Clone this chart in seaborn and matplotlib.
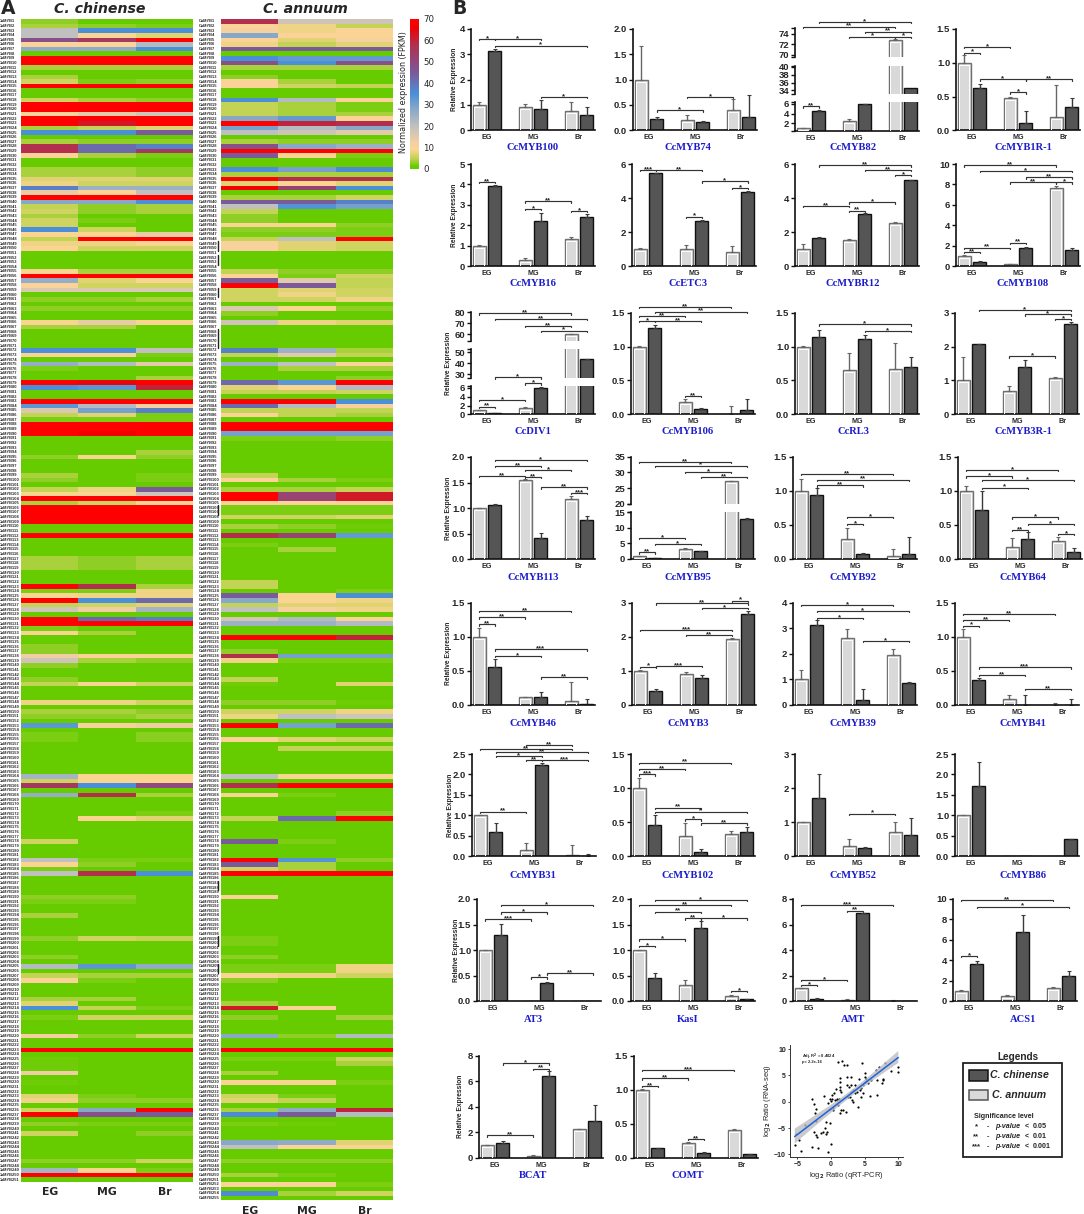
import numpy as np
import pandas as pd
import matplotlib
matplotlib.use("Agg")
import matplotlib.pyplot as plt
import seaborn as sns
from matplotlib.colors import LinearSegmentedColormap
from matplotlib.patches import Rectangle

W, H = 1084, 1214
sns.set_theme(style="white")
plt.rcParams['font.family'] = ['Liberation Sans', 'DejaVu Sans']
plt.rcParams['font.weight'] = 'bold'

# --- heatmap values read row by row (FPKM), G = plain green row, R = saturated red row
G = (1, 1, 1)
R = (70, 70, 70)
chinense_rows = [
    (3,1,.5),(4,3,2),(20,35,35),(20,9,7),(48,55,70),(10,10,22),(27,27,35),G,R,R,
    (4,4,4),G,(4,1,1),(6,2,3),R,G,G,(6,4,3),R,R,
    (10,14,18),R,(70,62,70),(4,5,7),(35,35,45),G,(4,3,3),(58,42,38),(58,42,55),(10,4,2),
    G,G,(4,4,3),(4,4,3),(7,7,7),(8,6,6),(38,25,25),(14,10,20),R,(28,28,35),
    (5,3,4),(6,3,4),(4,1,1),(6,2,1),(6,1,1),(35,6,1),(9,9,14),(5,70,70),(8,8,9),(9,6,6),
    G,G,G,G,(9,4,4),R,(26,7,9),(10,6,6),(16,16,16),G,
    (3,3,4),G,(3,3,3),G,G,(9,14,9),(4,4,1),G,G,G,
    G,(35,35,20),(9,9,2),G,(26,22,15),(2,1,1),G,(1,1,4),(70,65,70),(35,33,60),
    G,G,R,(33,22,12),(16,30,38),(5,7,2),(2,2,2),R,R,(70,66,70),
    G,G,G,(1,1,4),(3,9,3),G,G,G,(4,1,2),(3,1,2),
    G,(5,8,45),(9,9,18),R,(4,6,10),R,R,R,R,G,
    G,R,G,G,G,G,(4,3,4),(4,3,4),(4,3,4),G,
    G,G,(70,58,4),(2,2,8),(9,8,8),(70,35,42),(5,6,7),(18,13,24),G,(70,42,38),
    R,(2,1,1),(9,4,1),G,G,(3,1,1),(3,1,1),(13,10,9),(18,4,3),(3,1,1),
    G,G,(3,1,1),(5,9,6),G,G,G,(8,8,6),G,(4,4,3),
    (3,3,4),G,(33,11,13),G,(2,1,2.5),(2,1,2.5),G,G,G,G,
    G,G,G,(24,9,9),(6,9,9),(55,35,50),G,(26,58,4),G,G,
    G,(1,1,2),(1,9,7),G,G,G,G,(6,1,1),G,G,
    G,(20,2,2),(9,3,1),(2,1,1),(20,58,35),G,G,G,G,(3,3,1),
    (2,2,1),G,G,(4,1,1),G,G,G,G,(3,6,5),G,
    G,G,(3,1,1),G,(22,33,27),G,(5,4,4),(10,2,1),G,G,
    G,(4,4,1),(7,1,1),(35,5,2),G,(2,6,6),G,G,G,(12,3,6),
    G,G,R,G,(1.5,1,1),(1.5,1,1),(1.5,1,1),(13,1,1),G,(1.5,1,1),
    G,G,(7,2,1),(8,3,3),G,(6,28,70),(70,48,45),G,(3,2,2),G,
    (6,1,3),G,G,G,G,G,(3,3,6),G,(24,9,2),R,G,
]
annuum_rows = [
    (58,18,18),(10,8,5),(12,8,10),(28,10,9),(10,7,12),(8,5,7),(45,45,45),G,(35,32,32),(48,35,48),
    (4,4,4),G,(3,1,1),(10,4,1),(10,6,5),G,G,(35,22,10),(5,4,2),(5,4,2),
    (5,4,4),(28,32,10),(70,60,58),(30,22,28),(20,18,15),G,(4,3,3),(48,28,25),R,(45,9,2),
    G,G,(35,30,36),(4,4,4),(70,58,58),(7,9,7),(68,52,35),G,(4,4,6),(45,45,38),
    (20,34,30),(5,1,1),(3,1,1),(3,1,1),(9,9,3),(3,3,2),(2,2,2),(5,20,70),(11,7,6),(11,7,6),
    G,G,G,G,(5,3,3),(9,2,6),(45,15,5),(70,45,5),(6,7,6),(6,8,6),
    (6,6,8),G,(16,9,3),(3,1,1),G,(18,8,7),G,G,G,G,
    G,(38,25,4),(5,15,5),G,(25,20,10),(1,4,4),G,(1,1,3),(42,33,70),(7,9,22),
    (5,5,6),G,(70,70,35),(42,22,12),(5,5,5),(10,5,4),G,R,R,(30,30,30),
    (2,2,3),G,G,G,G,G,G,G,(5,1,1),(10,4,2),
    G,(4,4,5),(70,52,62),(70,52,62),(10,10,12),(2,2,2),(2,2,2),(6,6,7),G,(4,3,1.5),
    G,(58,52,32),G,(2,1,1),(1,4,1),G,G,G,G,G,
    G,(5,1,1),(5,1,1),(1,1,2),(45,9,35),(28,9,8),(5,7,7),(20,12,8),G,(17,22,10),
    (25,25,22),G,G,(70,70,60),G,G,(3,1,1),(58,30,30),(8,2,2),G,
    G,G,(5,1,1),(1.5,1,7),G,G,G,(3,3,1.5),G,(6,6,8),
    (8,20,18),G,(70,30,42),G,G,(10,7,6),G,(1,5,5),G,G,
    G,G,G,(20,9,9),G,(58,70,70),G,(9,2,1),G,G,
    G,(1,1,3),(5,42,70),G,G,G,G,(45,2,1),G,G,
    G,(70,34,3),(45,4,1),(6,4,1),R,G,G,G,G,(10,1,1),
    G,G,G,G,G,G,G,G,(2,1,1),(2,1,1),
    G,G,(3,1,1),G,(2,2,8),(2,2,8),(9,8,6),(3,1,1),G,G,
    G,G,(4,1,1),(62,10,1),G,(3,1,4),G,G,G,(28,3,22),
    G,G,R,G,(2,2,6),(1,1,4),G,(4,1,1),G,(10,9,2),
    G,G,(6,2,1),(7,5,1),G,(4,27,60),(36,45,22),G,(2,1.5,1),G,
    G,G,(28,27,7),(20,10,10),G,G,(3,3,3),G,G,(4,2,1),
    G,(10,10,2),G,(36,4,6),G,
]
stages = ["EG", "MG", "Br"]
# black marks beside the C. annuum rows (row start, row end)
mark_rows = [(48,50),(51,53),(58,60),(67,71),(105,107),(186,188),(198,200),(204,206)]

# --- qRT-PCR bars
genes = ["CcMYB100","CcMYB74","CcMYB82","CcMYB1R-1","CcMYB16","CcETC3","CcMYBR12","CcMYB108",
         "CcDIV1","CcMYB106","CcRL3","CcMYB3R-1","CcMYB113","CcMYB95","CcMYB92","CcMYB64",
         "CcMYB46","CcMYB3","CcMYB39","CcMYB41","CcMYB31","CcMYB102","CcMYB52","CcMYB86",
         "AT3","KasI","AMT","ACS1","BCAT","COMT"]
annuum_mean = [[1,.92,.78],[1,.2,.4],[1,2.5,72.7],[1,.48,.2],[1,.27,1.33],[1,1.02,.8],[1,1.55,2.55],[1,.15,7.6],
               [1,1.5,60],[1,.18,.01],[1,.65,.67],[1,.69,1.06],[1,1.55,1.17],[1,3.2,27.3],[1,.29,.04],[1,.18,.27],
               [1,.11,.05],[1,.89,1.92],[1,2.6,1.95],[1,.08,0],[1,.15,.03],[1,.29,.33],[1,.29,.71],[1,0,0],
               [1,0,0],[1,.31,.09],[1,.08,0],[1,.5,1.3],[1,.15,2.25],[1,.22,.41]]
annuum_err = [[.12,.1,.33],[.67,.1,.22],[.1,.5,.2],[.12,.01,.47],[.03,.12,.1],[.04,.22,.4],[.32,.05,.03],[.03,.03,.2],
              [.05,.05,.5],[.01,.04,.11],[.005,.26,.38],[.68,.15,.03],[.003,.01,.07],[.1,.2,.1],[.18,.17,.1],[.07,.13,.05],
              [.13,.01,.29],[.02,.08,.04],[.35,.35,.25],[.11,.07,.03],[.005,.18,.23],[.14,.2,.04],[.005,.22,.28],[.005,0,0],
              [.005,0,0],[.005,.1,.03],[.02,.05,.05],[.03,.12,.1],[.02,.05,.02],[.005,.01,.005]]
chinense_mean = [[3.12,.85,.62],[.22,.17,.26],[4.6,5.9,34.7],[.63,.11,.34],[3.9,2.2,2.38],[5.45,2.67,4.38],[1.67,3.08,5.05],[.38,1.75,1.6],
                 [.3,6,44],[1.27,.08,.06],[1.14,1.11,.7],[2.07,1.39,2.68],[1.05,.41,.77],[.3,2.6,13],[.94,.08,.07],[.72,.29,.1],
                 [.56,.11,.01],[.41,.8,2.68],[3.12,.18,.87],[.36,0,0],[.58,2.23,.01],[.46,.06,.35],[1.7,.25,.62],[1.72,0,.42],
                 [1.3,.35,0],[.45,1.44,.03],[.15,6.87,0],[3.65,6.8,2.45],[1.12,6.42,2.85],[.14,.07,.05]]
chinense_err = [[.1,.33,.3],[.04,.01,.43],[.15,.1,0],[.05,.18,.14],[.05,.42,.18],[.05,.02,.04],[.01,.02,.03],[.1,.15,.15],
                [.1,.2,.2],[.05,.02,.16],[.11,.06,.15],[.005,.21,.05],[.03,.1,.07],[.05,.1,.2],[.1,.01,.25],[.28,.1,.06],
                [.11,.08,.08],[.06,.06,.07],[.2,.42,.02],[.03,.15,.09],[.24,.05,.03],[.14,.04,.08],[.72,.02,.5],[.58,0,.005],
                [.21,.03,0],[.09,.12,.01],[.05,.02,0],[.25,1.65,.45],[.2,.4,1.3],[.01,.01,.005]]
y_max = [4,2,0,1.5, 5,6,6,10, 0,1.5,1.5,3, 2,0,1.5,1.5, 1.5,3,4,1.5, 2.5,1.5,3,2.5, 2,2,8,10, 8,1.5]
y_step = [1,.5,0,.5, 1,2,2,2, 0,.5,.5,1, .5,0,.5,.5, .5,1,1,.5, .5,.5,1,.5, .5,.5,2,2, 2,.5]

# significance brackets: (first bar, last bar, height as axes fraction, stars)
brackets = [
    [(0,1,.90,'*'),(1,3,.90,'*'),(1,5,.836,'*'),(3,5,.33,'*')],
    [(1,3,.197,'*'),(2,4,.33,'*')],
    [(0,1,.236,'**'),(2,4,.925,'*'),(4,5,.925,'*'),(3,5,.974,'**'),(0,4,1.023,'**'),(1,5,1.069,'*')],
    [(0,1,.767,'*'),(0,2,.823,'*'),(1,3,.502,'*'),(3,5,.502,'**'),(2,3,.374,'*')],
    [(0,1,.826,'**'),(2,3,.557,'*'),(2,4,.633,'**'),(4,5,.541,'*')],
    [(0,1,.944,'***'),(1,3,.944,'**'),(3,5,.83,'*'),(4,5,.764,'*'),(2,3,.485,'*')],
    [(1,5,.987,'**'),(3,5,.941,'**'),(4,5,.895,'*'),(0,2,.59,'**'),(2,4,.623,'*'),(2,3,.544,'**')],
    [(0,4,.987,'**'),(1,5,.934,'*'),(3,5,.869,'**'),(2,4,.82,'**'),(4,5,.82,'*'),(2,3,.23,'**'),(0,2,.18,'**'),(0,1,.14,'**')],
    [(0,4,.993,'**'),(1,5,.938,'**'),(2,4,.872,'**'),(3,5,.823,'*'),(1,3,.364,'*'),(2,3,.305,'*'),(0,2,.141,'*'),(0,1,.075,'**')],
    [(0,4,1.059,'**'),(1,5,1.01,'**'),(0,2,.967,'**'),(1,3,.918,'**'),(0,1,.918,'*'),(2,3,.18,'**')],
    [(1,5,.885,'*'),(3,5,.82,'*')],
    [(1,5,1.026,'*'),(3,5,.984,'*'),(4,5,.938,'*'),(2,4,.57,'*')],
    [(1,5,.97,'*'),(1,3,.912,'**'),(2,4,.873,'*'),(0,2,.814,'**'),(2,3,.807,'**'),(3,5,.703,'**'),(4,5,.647,'***')],
    [(0,4,.954,'**'),(1,5,.915,'*'),(2,4,.856,'*'),(3,5,.804,'**'),(0,2,.209,'*'),(1,3,.147,'*'),(0,1,.065,'**')],
    [(0,4,.833,'**'),(1,5,.778,'**'),(1,3,.722,'**'),(2,4,.412,'*'),(2,3,.346,'*')],
    [(0,4,.873,'*'),(0,2,.81,'*'),(1,5,.775,'*'),(1,3,.70,'*'),(2,4,.408,'*'),(3,5,.346,'*'),(2,3,.284,'**'),(4,5,.248,'*')],
    [(0,4,.92,'**'),(0,2,.856,'**'),(0,1,.788,'**'),(1,5,.542,'***'),(1,3,.477,'*'),(3,5,.268,'**')],
    [(4,5,1.02,'*'),(1,5,.993,'**'),(3,5,.951,'*'),(0,4,.732,'***'),(2,4,.683,'**'),(0,1,.373,'*'),(1,3,.379,'***')],
    [(0,4,.977,'*'),(1,5,.918,'*'),(1,3,.853,'*'),(3,5,.624,'*')],
    [(0,4,.889,'**'),(0,2,.83,'**'),(0,1,.775,'*'),(1,5,.366,'***'),(1,3,.291,'**'),(3,5,.154,'**')],
    [(0,4,1.052,'**'),(2,4,1.088,'**'),(1,5,1.02,'**'),(1,3,.98,'*'),(2,3,.941,'**'),(3,5,.941,'***'),(0,2,.435,'**')],
    [(0,4,.915,'**'),(0,2,.853,'**'),(0,1,.80,'***'),(1,3,.474,'**'),(1,5,.435,'*'),(2,3,.36,'*'),(3,5,.32,'**')],
    [(2,4,.415,'*')],
    [],
    [(1,5,.94,'*'),(1,3,.869,'*'),(0,2,.80,'***'),(2,3,.232,'*'),(3,5,.271,'**')],
    [(1,5,.993,'*'),(0,4,.941,'**'),(1,3,.876,'**'),(2,3,.81,'**'),(3,5,.81,'*'),(0,2,.605,'*'),(0,1,.539,'*'),(4,5,.098,'*')],
    [(0,4,.941,'***'),(2,3,.886,'**'),(0,2,.206,'*'),(0,1,.157,'*')],
    [(0,4,.99,'**'),(1,5,.925,'*'),(0,1,.441,'*')],
    [(1,3,.925,'*'),(2,3,.873,'**'),(0,2,.219,'**')],
    [(0,4,.859,'***'),(0,2,.778,'**'),(0,1,.706,'**'),(2,3,.183,'**')],
]

# --- scatter of log2 ratios
qpcr = [-5.4,-5.2,-4.8,-4.4,-3.9,-2.9,-2.9,-2.6,-2.6,-2.4,-2.3,-2.2,-2.2,-2.1,-1.9,-1.5,-1.2,-1,-.9,-.8,-.7,-.6,-.4,-.4,-.2,-.2,-.1,0,0,.1,.2,.3,.3,.4,.6,.8,.9,.9,1,1.1,1.2,1.3,1.4,1.4,1.4,1.4,1.5,1.5,1.6,1.8,2,2.2,2.4,2.3,2.4,2.5,2.6,2.8,2.9,3,3,3.1,3.2,3.3,3.5,3.6,3.9,4,4.1,4.3,4.4,4.5,4.6,4.7,4.8,5,5.1,5.1,5.2,5.5,5.8,6,6.7,6.9,6.9,7.2,7.6,7.7,7.8,8,8.9,10,10]
rnaseq = [-8.3,-6.2,-7.3,-9.3,-4.4,.5,-8.6,-.4,-5.8,-2.2,-6.3,-1.3,-3.6,-6.7,-8.8,-6,-5.7,1.1,-4.9,-3.8,-6.2,-5.7,-9.6,-.2,.6,-1.3,-4.1,-8,.1,1.3,.6,-1.1,-1.5,1.6,.3,2.4,.6,.3,-.6,7.6,.6,-2.2,4.5,3.8,2.9,2.3,1.9,-1.5,7.8,-1.6,7,-1.9,7,4.8,3.2,1,2.9,1,4.8,3.2,1.9,.3,2.2,0,1.6,3.2,1.9,-1,4.4,2.3,2.7,1,7.4,3.2,1.6,4.8,5.5,3.8,4.3,3.5,1.1,4.1,6,1.3,4.1,6.7,3.5,4.1,4.4,7.3,5.9,6.7,5.7]

# --- layout in reference pixels
col_left = [[471,633,795,956],[471,632,795,956],[471,631,795,955],[471,631,793,958],
            [471,632,793,955],[472,631,795,955],[477,631,793,953],[479,634,0,0]]
col_width = 124
row_zero = [130.3,266,414.3,559,704.7,856,1001,1157.7]
row_top = [29,164,312.7,457,602.7,754,899,1055.7]
title_x = [533,688,853,1023]
title_y = [147,283,432,578,723,875,1019,1175]
ylabel_x = [454,454,449,449,449,450,456,460]
# broken y axes: gene index -> (low, high, px bottom, px top, ticks) from lowest segment up
broken = {
    2: [(.5,6.4,130.7,102,[2,4,6]),(33,40.3,94.3,65.7,[34,36,38,40]),(69.5,75,57.3,28.3,[70,72,74])],
    8: [(0,6.5,414.3,385.7,[0,2,4,6]),(26.6,53,377.7,349,[30,40,50]),(54,80,340.7,312.3,[60,70,80])],
    13: [(0,15.2,559,511.7,[0,5,10,15]),(19.8,35,504.3,456.7,[20,25,30,35])],
}
light_col, dark_col = "#d9d9d9", "#555555"
GROUP_PX, OFFSET_PX = 46, 16


def box(l, t, r, b):
    return [l / W, 1 - b / H, (r - l) / W, (b - t) / H]


fig = plt.figure(figsize=(W / 100, H / 100), dpi=100)
canvas = fig.add_axes([0, 0, 1, 1], zorder=5)
canvas.set_xlim(0, W)
canvas.set_ylim(H, 0)
canvas.axis("off")
canvas.patch.set_alpha(0)

heat_cmap = LinearSegmentedColormap.from_list("fpkm", [
    (0, "#66cc00"), (1 / 70, "#66cc00"), (5 / 70, "#c4d354"), (9 / 70, "#fdd495"), (12 / 70, "#f5d0a0"),
    (20 / 70, "#c0c0c0"), (28 / 70, "#88a8c8"), (35 / 70, "#4a90d9"), (45 / 70, "#7a5a9a"),
    (58 / 70, "#b03050"), (66 / 70, "#f00000"), (1, "#ff0000")])
ROW_PX = 4.633


def draw_heat(rows, prefix, left, cbar_ax=None):
    arr = np.array(rows, dtype=float)
    labels = [f"{prefix}{i + 1}" for i in range(len(arr))]
    df = pd.DataFrame(arr, index=labels, columns=stages)
    ax = fig.add_axes(box(left, 19, left + 172, 19 + ROW_PX * len(arr)))
    sns.heatmap(df, ax=ax, cmap=heat_cmap, vmin=0, vmax=70, cbar=cbar_ax is not None, cbar_ax=cbar_ax,
                xticklabels=True, yticklabels=True)
    ax.tick_params(axis="y", length=0, labelsize=2.9, pad=2, rotation=0)
    ax.tick_params(axis="x", length=0, pad=4, rotation=0)
    for t in ax.get_xticklabels():
        t.set_fontfamily("DejaVu Sans")
        t.set_fontsize(7.8)
        t.set_fontweight("bold")
    for t in ax.get_yticklabels():
        t.set_ha("left")
        t.set_x(-19 / 172)
    return ax


cbar_ax = fig.add_axes(box(410, 19, 419, 169))
ax_cc = draw_heat(chinense_rows, "CaMYB", 21, cbar_ax)
ax_ca = draw_heat(annuum_rows, "CaMYB", 221)
for a, b in mark_rows:
    ax_ca.plot([-.016, -.016], [a, b], color="#222222", lw=1, clip_on=False, transform=ax_ca.get_yaxis_transform())
cbar_ax.set_yticks(range(0, 71, 10))
cbar_ax.tick_params(length=0, labelsize=6.2, pad=3)
for t in cbar_ax.get_yticklabels():
    t.set_fontfamily("DejaVu Sans")
    t.set_fontweight("normal")
canvas.text(404, 92, "Normalized expression (FPKM)", rotation=90, ha="center", va="center",
            fontsize=5.8, family="DejaVu Sans", weight="normal")
canvas.text(100, 9, "C. chinense", ha="center", va="center", fontsize=10.2, family="DejaVu Sans",
            style="italic", weight="bold")
canvas.text(305, 9, "C. annuum", ha="center", va="center", fontsize=10.2, family="DejaVu Sans",
            style="italic", weight="bold")
canvas.text(1, 8, "A", ha="left", va="center", fontsize=13.5, family="DejaVu Sans", weight="bold")
canvas.text(452, 8, "B", ha="left", va="center", fontsize=13.5, family="DejaVu Sans", weight="bold")


def draw_bars(ax, i, low, high, xlim):
    df = pd.DataFrame({"stage": stages * 2,
                       "value": annuum_mean[i] + chinense_mean[i],
                       "species": ["annuum"] * 3 + ["chinense"] * 3})
    sns.barplot(data=df, x="stage", y="value", hue="species", order=stages, hue_order=["annuum", "chinense"],
                palette=[light_col, dark_col], width=.68, gap=.16, errorbar=None, legend=False, ax=ax)
    ax.set_xlim(*xlim)
    ax.set_ylim(low, high)
    ax.set_xlabel("")
    ax.set_ylabel("")
    scale = (high - low) / (ax.get_position().height * H)
    errors = [annuum_err[i], chinense_err[i]]
    centers = []
    for cont, err, edge, ecol in zip(ax.containers, errors, ["#707070", "#111111"], ["#666666", "#3a3a3a"]):
        xs = [p.get_x() + p.get_width() / 2 for p in cont.patches]
        hs = [p.get_height() for p in cont.patches]
        centers.append(xs)
        for p in cont.patches:
            p.set_edgecolor(edge)
            p.set_linewidth(1.0)
        keep = [k for k in range(3) if err[k] > 0]
        ax.errorbar([xs[k] for k in keep], [hs[k] for k in keep],
                    yerr=[[0] * len(keep), [err[k] for k in keep]], fmt="none", ecolor=ecol,
                    elinewidth=1, capsize=1.4, capthick=.8, zorder=1)
    # white inner rim of the pale bars
    for p in ax.containers[0].patches:
        h = p.get_height() - 2 * scale
        if h > 0:
            x0, w = p.get_x(), p.get_width()
            ax.plot([x0 + .14 * w, x0 + .14 * w, x0 + .86 * w, x0 + .86 * w], [0, h, h, 0],
                    color="white", lw=.7, zorder=4)
    ax.set_ylim(low, high)
    for s in ["top", "right"]:
        ax.spines[s].set_visible(False)
    for s in ["left", "bottom"]:
        ax.spines[s].set_linewidth(1.2)
        ax.spines[s].set_color("#111111")
    ax.tick_params(axis="y", length=3, width=1, left=True, labelsize=6.8, pad=1.2, color="#111111")
    ax.patch.set_alpha(0)
    return centers


for i, gene in enumerate(genes):
    row, col = i // 4, i % 4
    if i >= 28:
        col = i - 28
    left = col_left[row][col]
    right = left + col_width
    zero, top = row_zero[row], row_top[row]
    xlim = (-OFFSET_PX / GROUP_PX, (col_width - OFFSET_PX) / GROUP_PX)
    if i in broken:
        segs = broken[i]
    else:
        ticks = list(np.arange(0, y_max[i] + 1e-6, y_step[i]))
        segs = [(0, y_max[i], zero, top, ticks)]
    for k, (low, high, bottom_px, top_px, ticks) in enumerate(segs):
        ax = fig.add_axes(box(left, top_px, right, bottom_px))
        centers = draw_bars(ax, i, low, high, xlim)
        ax.set_yticks(ticks)
        if y_step[i] and y_step[i] < 1:
            ax.set_yticklabels([f"{t:.1f}" for t in ticks])
        else:
            ax.set_yticklabels([f"{t:g}" for t in ticks])
        if i in broken:
            ax.set_yticks([low, high], minor=True)
            ax.tick_params(axis="y", which="minor", length=3, width=1, left=True, color="#111111")
        if k == 0:
            ax.tick_params(axis="x", length=0, labelsize=5.2, pad=3)
        else:
            ax.spines["bottom"].set_visible(False)
            ax.set_xticks([])
    # brackets sit on a clear layer spanning the whole panel
    layer = fig.add_axes(box(left, top, right, zero), zorder=3)
    layer.set_xlim(*xlim)
    layer.set_ylim(0, 1)
    layer.axis("off")
    bar_x = [centers[0][0], centers[1][0], centers[0][1], centers[1][1], centers[0][2], centers[1][2]]
    for a, b, y, stars in brackets[i]:
        layer.plot([bar_x[a], bar_x[a], bar_x[b], bar_x[b]], [y - .012, y, y, y - .012], color="#333333",
                   lw=.85, clip_on=False, solid_joinstyle="miter")
        layer.text((bar_x[a] + bar_x[b]) / 2, y - .03, stars, ha="center", va="bottom", fontsize=5.6,
                   color="#222222", clip_on=False)
    canvas.text(title_x[col], title_y[row], gene, ha="center", va="center", fontsize=7.6, color="#1c1ccc",
                family="Liberation Serif", weight="bold")
    if col == 0:
        canvas.text(ylabel_x[row], (zero + top) / 2, "Relative Expression", rotation=90, ha="center",
                    va="center", fontsize=4.8)

# scatter panel
ax_sc = fig.add_axes(box(790, 1045, 903, 1157))
df_sc = pd.DataFrame({"qpcr": qpcr, "rnaseq": rnaseq})
sns.regplot(data=df_sc, x="qpcr", y="rnaseq", ax=ax_sc, ci=95, seed=3,
            scatter_kws={"s": 2.5, "color": "black", "alpha": 1, "linewidths": 0},
            line_kws={"color": "#1f62e0", "lw": 1.1})
for coll in ax_sc.collections:
    if coll.get_array() is None and len(coll.get_paths()) == 1 and not coll.get_offsets().size > 2:
        coll.set_facecolor("#bdbdbd")
        coll.set_edgecolor("none")
        coll.set_alpha(.8)
ax_sc.set_xlim(-6.1, 10.7)
ax_sc.set_ylim(-10.5, 10.8)
ax_sc.set_xticks([-5, 0, 5, 10])
ax_sc.set_yticks([-10, -5, 0, 5, 10])
ax_sc.tick_params(labelsize=5, length=1.5, width=.6, pad=1.5, bottom=True, left=True)
ax_sc.set_xlabel(r"log$_2$ Ratio (qRT-PCR)", fontsize=5.4, labelpad=1)
ax_sc.set_ylabel(r"log$_2$ Ratio (RNA-seq)", fontsize=5.4, labelpad=1)
sns.despine(ax=ax_sc)
for s in ["left", "bottom"]:
    ax_sc.spines[s].set_linewidth(.7)
    ax_sc.spines[s].set_color("#333333")
canvas.text(802, 1057, r"Adj. R$^2$ = 0.4024", fontsize=3, va="center")
canvas.text(802, 1062, "p< 2.2e-16", fontsize=3, va="center")

# legend box
canvas.text(1018, 1057, "Legends", ha="center", va="center", fontsize=7.2)
canvas.add_patch(Rectangle((963, 1063), 99, 94, fill=False, ec="#222222", lw=1.3))
canvas.add_patch(Rectangle((969, 1070), 19, 11, fc=dark_col, ec="#111111", lw=1.1))
canvas.add_patch(Rectangle((969, 1090), 19, 10, fc=light_col, ec="#555555", lw=1.1))
canvas.text(990, 1075.5, "C. chinense", style="italic", va="center", fontsize=7.6)
canvas.text(992, 1095.5, "C. annuum", style="italic", va="center", fontsize=7.6)
canvas.text(974, 1116, "Significance level", va="center", fontsize=5.1)
sig_levels = [("*", "0.05"), ("**", "0.01"), ("***", "0.001")]
for (stars, level), y in zip(sig_levels, [1127, 1137, 1147]):
    canvas.text(976, y, stars, ha="center", va="center", fontsize=5.6)
    canvas.text(988, y, "-", ha="center", va="center", fontsize=5.1)
    canvas.text(1008, y, "p-value", ha="center", va="center", fontsize=5.1, style="italic")
    canvas.text(1027, y, "<", ha="center", va="center", fontsize=5.1)
    canvas.text(1033, y, level, ha="left", va="center", fontsize=5.1)

fig.savefig("out.png", dpi=100)
